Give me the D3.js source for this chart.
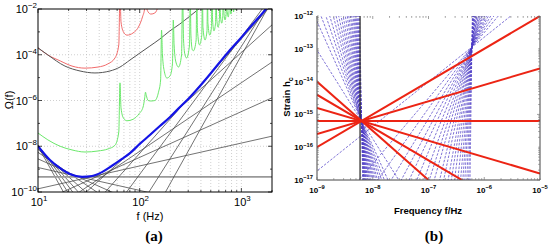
<!DOCTYPE html>
<html>
<head>
<meta charset="utf-8">
<script src="https://cdn.jsdelivr.net/npm/d3@7"></script>
<style>
  body { margin: 0; background: #fff; }
  svg { display: block; font-family: "Liberation Sans", Arial, sans-serif; }
</style>
</head>
<body>
<div id="chart"></div>
<script>
// ---------- panel (a): Omega(f) vs f ----------
const freqTicksA = [10, 100, 1000];
const omegaTicksA = [1e-10, 1e-8, 1e-6, 1e-4, 1e-2];

// smooth black noise curve
const blackCurve = [
  [10, 2.0e-4], [12.5, 9.8e-5], [18.4, 3.2e-5], [25.9, 1.95e-5], [36.3, 1.6e-5],
  [51, 1.95e-5], [64, 2.9e-5], [80.3, 5.9e-5], [100.7, 1.2e-4], [126, 2.4e-4],
  [158, 4.9e-4], [198, 1.1e-3], [248, 2.2e-3], [312, 4.9e-3], [391, 1.1e-2]
];

// red curve with resonances
const redCurve = [
  [10, 2.0e-4], [12.5, 9.8e-5], [16.5, 5.4e-5], [21.6, 3.2e-5], [29, 2.6e-5],
  [38.9, 2.9e-5], [48.7, 4.0e-5], [57.1, 7.2e-5], [62.3, 2.7e-4], [64, 5e-2],
  [65.5, 2.7e-3], [69.3, 9.9e-4], [75, 7.2e-4], [85.9, 8.9e-4], [98.4, 1.8e-3],
  [106.5, 4.5e-3], [112, 1.1e-2], [114, 5e-2], [116, 1.5e-2], [121, 7.4e-3],
  [129, 6.0e-3], [141, 6.7e-3], [153, 1.5e-2], [160.6, 4e-2]
];

// green curve with resonances
const greenCurve = [
  [10, 3.8e-8], [12.5, 1.9e-8], [16.5, 1.0e-8], [21.6, 6.9e-9], [29, 5.6e-9],
  [38.9, 6.2e-9], [48.7, 7.6e-9], [57.1, 1.1e-8], [62.3, 4.2e-8], [64, 5.9e-6],
  [65.5, 4.7e-7], [69.3, 1.7e-7], [75, 1.3e-7], [85.9, 1.5e-7], [98.4, 2.6e-7],
  [108, 5.2e-7], [112, 1.3e-6], [114, 2.3e-6], [116, 1.7e-6], [121, 1.0e-6],
  [129, 9.5e-7], [141, 1.0e-6], [153, 2.3e-6], [160.6, 7.9e-6], [164, 1.2e-3],
  [167.5, 9.8e-5], [175, 1.8e-5], [185, 9.6e-6], [199, 1.2e-5], [210, 4.0e-5],
  [214, 3.3e-3], [218, 2.7e-4], [227, 4.8e-5], [241, 2.9e-5], [258, 9.8e-5],
  [264, 5e-2], [270, 4.4e-4], [279, 9.8e-5], [289, 7.2e-5], [309, 2.7e-4],
  [314, 5e-2], [319, 7.2e-4], [330, 1.6e-4], [338, 1.5e-4], [359, 4.4e-4],
  [364, 5e-2], [370, 1.2e-3], [387, 2.7e-4], [408, 7.2e-4], [414, 5e-2],
  [419, 1.6e-3], [439, 4.4e-4], [459, 1.1e-3], [464, 5e-2], [469, 2.4e-3],
  [489, 7.2e-4], [508, 1.6e-3], [514, 5e-2], [521, 3.3e-3], [537, 1.1e-3],
  [557, 2.4e-3], [564, 5e-2], [571, 4.5e-3], [589, 1.6e-3], [608, 3.3e-3],
  [614, 5e-2], [621, 6.0e-3], [641, 2.4e-3], [656, 4.5e-3], [664, 5e-2],
  [673, 7.4e-3], [690, 3.3e-3], [708, 6.0e-3], [714, 5e-2], [723, 9.1e-3],
  [743, 4.5e-3], [755, 7.4e-3], [764, 5e-2], [790, 6.0e-3], [814, 5e-2],
  [838, 7.4e-3], [864, 5e-2], [885, 9.1e-3], [914, 5e-2], [946, 1.4e-2]
];

// power-law integrated sensitivity (blue)
const plsCurve = [
  [10, 1.0e-8], [13.1, 2.5e-9], [16.5, 1.1e-9], [20.6, 6.1e-10], [27.1, 4.6e-10],
  [34, 5.0e-10], [42.6, 7.4e-10], [53.4, 1.4e-9], [67, 2.8e-9], [80.3, 5.0e-9],
  [100.7, 1.3e-8], [126, 3.1e-8], [158, 7.7e-8], [199, 1.9e-7], [249, 5.2e-7],
  [312, 1.4e-6], [392, 4.3e-6], [491, 1.4e-5], [616, 4.8e-5], [773, 1.6e-4],
  [969, 4.9e-4], [1215, 1.6e-3], [1524, 4.9e-3], [1745, 1.0e-2], [2000, 2.2e-2]
];

// power-law lines: index and the point where each touches the blue curve
const plBeta = [-8, -7, -6, -5, -4, -3, -2, -1, 0, 1, 2, 3, 4, 5, 6, 7, 8];
const plTouch = [
  [10, 1.0e-8], [10.7, 6.9e-9], [11.5, 4.8e-9], [12.3, 3.4e-9], [13.7, 2.1e-9],
  [15.7, 1.4e-9], [18.4, 8.3e-10], [22.6, 5.2e-10], [29, 4.6e-10], [36.3, 5.0e-10],
  [45.6, 6.8e-10], [58.5, 1.2e-9], [100.7, 1.3e-8], [491, 1.4e-5], [969, 4.9e-4],
  [1361, 2.0e-3], [1706, 6.7e-3]
];

// ---------- panel (b): strain h_c vs frequency ----------
const freqTicksB = [1e-9, 1e-8, 1e-7, 1e-6, 1e-5];
const strainTicksB = [1e-17, 1e-16, 1e-15, 1e-14, 1e-13, 1e-12];
const lowPivot = [6.3e-9, 6.3e-16];
const highPivot = [6.0e-7, 1.13e-13];
const redSlopes = [1, 0.5, 0, -0.5, -1, -1.5];
const blueSlopesLow = [-2.7, -3.8, -4.4, -5, -5.6, -6.3, -7, -7.8, -8.7, -9.7, -11,
  -12.5, -14, -16, -18, -21, -24, -28, -33, -40, -50, -65, -90];
const blueSlopesHigh = [1.36, 2.0, 2.4, 2.8, 3.2, 3.6, 4.1, 4.7, 5.3, 6, 7, 8, 9.5,
  11, 13, 16, 20, 25, 32, 45, 70, 120];

const width = 553, height = 244;
const svg = d3.select("#chart").append("svg")
  .attr("width", width).attr("height", height);

function powLabel(g, x, y, exp, size, anchor, weight) {
  const t = g.append("text").attr("x", x).attr("y", y)
    .attr("text-anchor", anchor).attr("font-size", size)
    .attr("font-weight", weight).attr("fill", "#000");
  t.append("tspan").text("10");
  t.append("tspan").attr("dy", -size * 0.45).attr("font-size", size * 0.72).text(exp);
}

function minorValues(lo, hi) {
  const out = [];
  for (let d = lo; d < hi * 1.0001; d *= 10) {
    for (let k = 1; k <= 9; k++) {
      const v = k * d;
      if (v >= lo * 0.9999 && v <= hi * 1.0001) out.push(v);
    }
  }
  return out;
}

// ===== panel (a) =====
const xa = d3.scaleLog().domain([10, 2000]).range([38, 272]);
const ya = d3.scaleLog().domain([1e-10, 1e-2]).range([192, 9]);
const ga = svg.append("g");

ga.append("clipPath").attr("id", "clipA").append("rect")
  .attr("x", 38).attr("y", 9).attr("width", 234).attr("height", 183);

// grid
ga.append("g").selectAll("line")
  .data(minorValues(10, 2000).filter(v => v > 10 && v < 2000))
  .join("line")
  .attr("x1", d => xa(d)).attr("x2", d => xa(d))
  .attr("y1", 9).attr("y2", 192)
  .attr("stroke", "#bbb").attr("stroke-width", 0.7).attr("stroke-dasharray", "1,2");
ga.append("g").selectAll("line")
  .data([1e-8, 1e-6, 1e-4])
  .join("line")
  .attr("x1", 38).attr("x2", 272)
  .attr("y1", d => ya(d)).attr("y2", d => ya(d))
  .attr("stroke", "#bbb").attr("stroke-width", 0.7).attr("stroke-dasharray", "1,2");

const lineA = d3.line().x(d => xa(d[0])).y(d => ya(d[1])).curve(d3.curveMonotoneX);
const plotA = ga.append("g").attr("clip-path", "url(#clipA)");

// power-law lines
plBeta.forEach((b, i) => {
  const [ft, ot] = plTouch[i];
  const pts = [10, 2000].map(f => [f, ot * Math.pow(f / ft, b)]);
  plotA.append("path")
    .attr("d", d3.line().x(d => xa(d[0])).y(d => ya(d[1]))(pts))
    .attr("fill", "none")
    .attr("stroke", b === 0 ? "#999" : "#444")
    .attr("stroke-width", b === 0 ? 1.8 : 0.75);
});

plotA.append("path").attr("d", lineA(redCurve))
  .attr("fill", "none").attr("stroke", "#f26b6b").attr("stroke-width", 1);
plotA.append("path").attr("d", lineA(blackCurve))
  .attr("fill", "none").attr("stroke", "#555").attr("stroke-width", 1);
plotA.append("path").attr("d", lineA(greenCurve))
  .attr("fill", "none").attr("stroke", "#6be86b").attr("stroke-width", 1);
plotA.append("path").attr("d", lineA(plsCurve))
  .attr("fill", "none").attr("stroke", "#1414e6").attr("stroke-width", 2.2);

// frame and ticks
ga.append("rect").attr("x", 38).attr("y", 9).attr("width", 234).attr("height", 183)
  .attr("fill", "none").attr("stroke", "#000").attr("stroke-width", 1);
const xMinorA = minorValues(10, 2000);
ga.append("g").selectAll("line").data(xMinorA).join("line")
  .attr("x1", d => xa(d)).attr("x2", d => xa(d))
  .attr("y1", 192).attr("y2", d => freqTicksA.includes(d) ? 188 : 190)
  .attr("stroke", "#000").attr("stroke-width", 0.7);
ga.append("g").selectAll("line").data(xMinorA).join("line")
  .attr("x1", d => xa(d)).attr("x2", d => xa(d))
  .attr("y1", 9).attr("y2", d => freqTicksA.includes(d) ? 13 : 11)
  .attr("stroke", "#000").attr("stroke-width", 0.7);
const yDecA = [1e-10, 1e-9, 1e-8, 1e-7, 1e-6, 1e-5, 1e-4, 1e-3, 1e-2];
ga.append("g").selectAll("line").data(yDecA).join("line")
  .attr("x1", 38).attr("x2", d => omegaTicksA.includes(d) ? 42 : 40)
  .attr("y1", d => ya(d)).attr("y2", d => ya(d))
  .attr("stroke", "#000").attr("stroke-width", 0.7);
ga.append("g").selectAll("line").data(yDecA).join("line")
  .attr("x1", 272).attr("x2", d => omegaTicksA.includes(d) ? 268 : 270)
  .attr("y1", d => ya(d)).attr("y2", d => ya(d))
  .attr("stroke", "#000").attr("stroke-width", 0.7);

freqTicksA.forEach(v => powLabel(ga, xa(v) + 1, 206, String(Math.round(Math.log10(v))), 11, "middle", "normal"));
omegaTicksA.forEach(v => powLabel(ga, 37, ya(v) + 4, "\u2212" + Math.round(-Math.log10(v)), 11, "end", "normal"));

ga.append("text").attr("transform", "translate(13,100) rotate(-90)")
  .attr("text-anchor", "middle").attr("font-size", 11).text("\u03A9(f)");
ga.append("text").attr("x", 150).attr("y", 220).attr("text-anchor", "middle")
  .attr("font-size", 11).text("f (Hz)");
ga.append("text").attr("x", 154).attr("y", 241).attr("text-anchor", "middle")
  .attr("font-family", "Liberation Serif, Times New Roman, serif")
  .attr("font-weight", "bold").attr("font-size", 15).text("(a)");

// ===== panel (b) =====
const xb = d3.scaleLog().domain([1e-9, 1e-5]).range([317, 540]);
const yb = d3.scaleLog().domain([1e-17, 1e-12]).range([180, 16]);
const gb = svg.append("g");
gb.append("clipPath").attr("id", "clipB").append("rect")
  .attr("x", 317).attr("y", 16).attr("width", 223).attr("height", 164);
const plotB = gb.append("g").attr("clip-path", "url(#clipB)");
const lineB = d3.line().x(d => xb(d[0])).y(d => yb(d[1]));

// straight log-log line through a pivot, spanning the panel
function spanLine(pivot, s) {
  const [f0, h0] = pivot;
  if (Math.abs(s) < 1) return [1e-9, 1e-5].map(f => [f, h0 * Math.pow(f / f0, s)]);
  return [1e-18, 1e-11].map(h => [f0 * Math.pow(h / h0, 1 / s), h]);
}

blueSlopesLow.forEach(s => {
  plotB.append("path").attr("d", lineB(spanLine(lowPivot, s)))
    .attr("fill", "none").attr("stroke", "#4a3ac4").attr("stroke-width", 0.7)
    .attr("stroke-dasharray", "2.5,1.5");
});
blueSlopesHigh.forEach(s => {
  plotB.append("path").attr("d", lineB(spanLine(highPivot, s)))
    .attr("fill", "none").attr("stroke", "#4a3ac4").attr("stroke-width", 0.7)
    .attr("stroke-dasharray", "2.5,1.5");
});

plotB.append("line")
  .attr("x1", xb(lowPivot[0]) - 1.5).attr("x2", xb(lowPivot[0]) - 1.5)
  .attr("y1", 16).attr("y2", 180)
  .attr("stroke", "#333").attr("stroke-width", 1.3);

redSlopes.forEach(s => {
  plotB.append("path").attr("d", lineB(spanLine(lowPivot, s)))
    .attr("fill", "none").attr("stroke", "#ec2414").attr("stroke-width", 2);
});

// frame (no top line) and ticks
gb.append("path").attr("d", "M317,16V180H540V16")
  .attr("fill", "none").attr("stroke", "#444").attr("stroke-width", 1);
const xMinorB = minorValues(1e-9, 1e-5);
[[180, -1], [16, 1]].forEach(([y0, dir]) => {
  gb.append("g").selectAll("line").data(xMinorB).join("line")
    .attr("x1", d => xb(d)).attr("x2", d => xb(d))
    .attr("y1", y0).attr("y2", d => y0 + dir * (freqTicksB.includes(d) ? 3 : 1.8))
    .attr("stroke", "#777").attr("stroke-width", 0.7);
});
const yMinorB = minorValues(1e-17, 1e-12);
[[317, 1], [540, -1]].forEach(([x0, dir]) => {
  gb.append("g").selectAll("line").data(yMinorB).join("line")
    .attr("x1", x0).attr("x2", d => x0 + dir * (strainTicksB.includes(d) ? 3 : 1.8))
    .attr("y1", d => yb(d)).attr("y2", d => yb(d))
    .attr("stroke", "#777").attr("stroke-width", 0.7);
});

freqTicksB.forEach(v => powLabel(gb, xb(v), 193, "\u2212" + Math.round(-Math.log10(v)), 8, "middle", "bold"));
strainTicksB.forEach(v => powLabel(gb, 313, yb(v) + 3, "\u2212" + Math.round(-Math.log10(v)), 8, "end", "bold"));

const st = gb.append("text").attr("transform", "translate(290,97) rotate(-90)")
  .attr("text-anchor", "middle").attr("font-size", 9.5).attr("font-weight", "bold");
st.append("tspan").text("Strain h");
st.append("tspan").attr("dy", 2.5).attr("font-size", 7).text("c");
gb.append("text").attr("x", 428).attr("y", 214).attr("text-anchor", "middle")
  .attr("font-size", 9.5).attr("font-weight", "bold").text("Frequency f/Hz");
gb.append("text").attr("x", 434).attr("y", 241).attr("text-anchor", "middle")
  .attr("font-family", "Liberation Serif, Times New Roman, serif")
  .attr("font-weight", "bold").attr("font-size", 15).text("(b)");
</script>
</body>
</html>
